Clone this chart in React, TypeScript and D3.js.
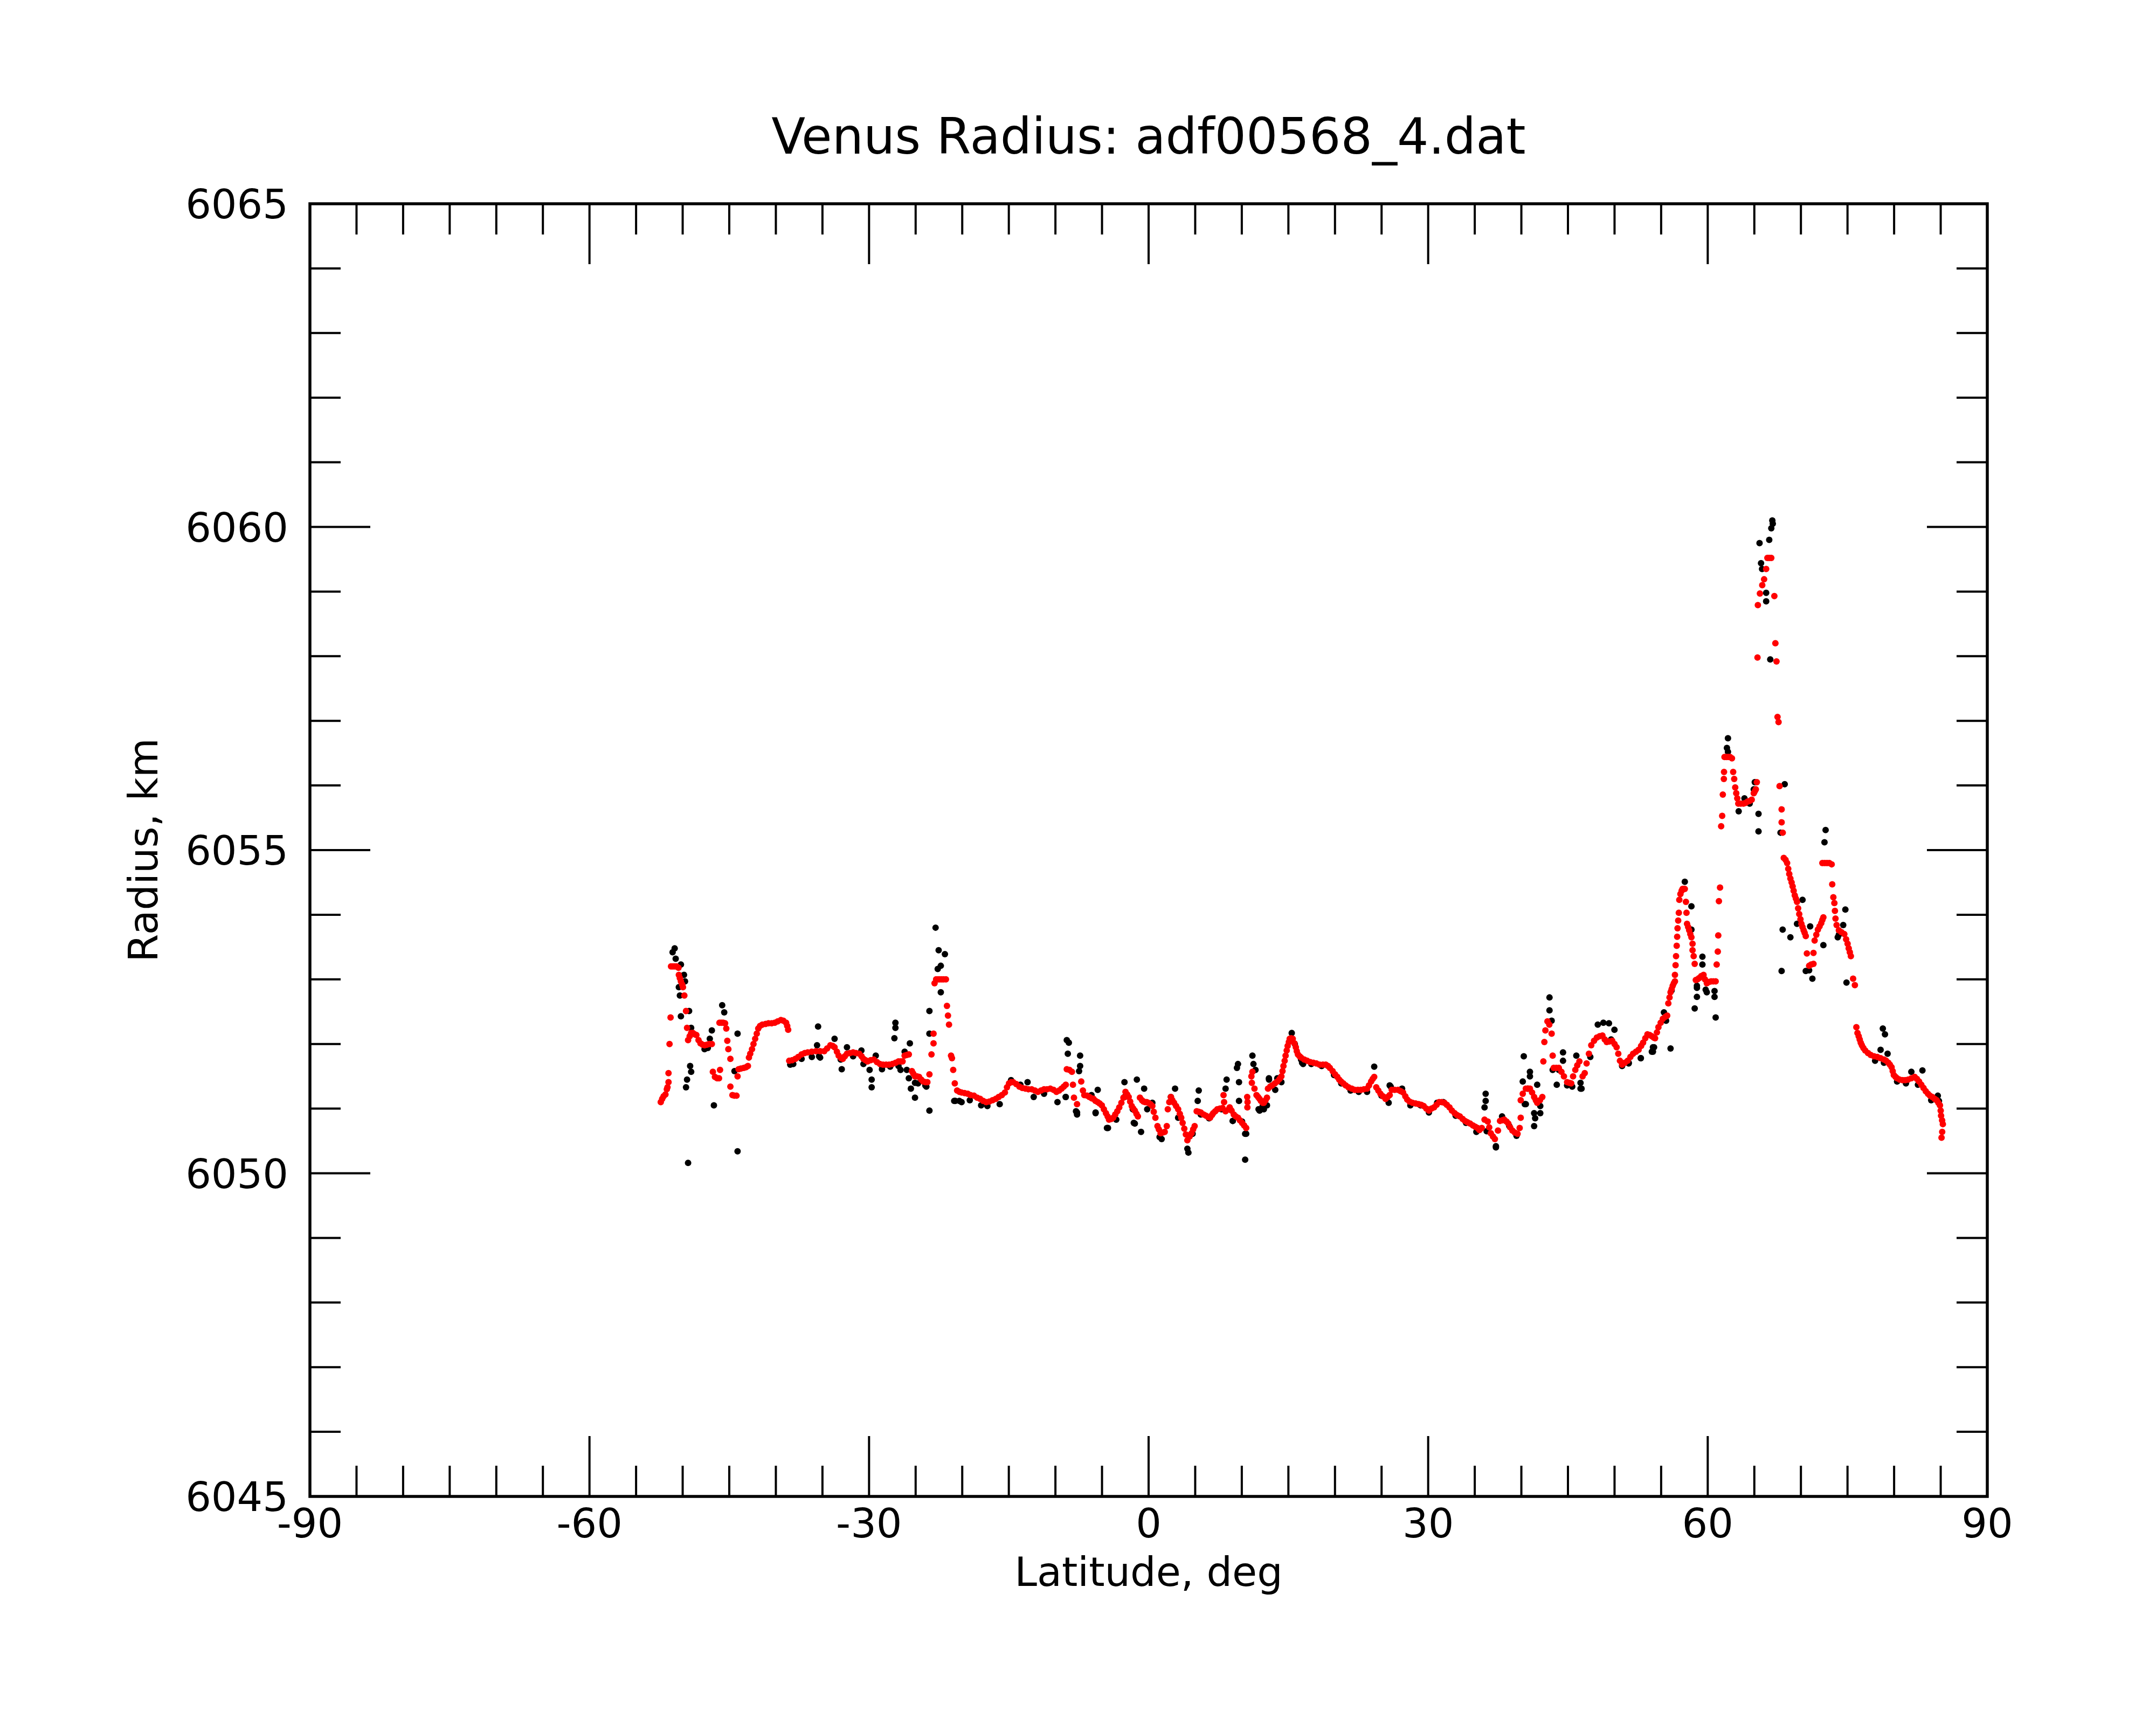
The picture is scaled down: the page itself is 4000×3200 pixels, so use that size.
import * as d3 from 'd3'

// latitude (deg), radius (km)
const RED_POINTS: [number, number][] = [
  [-52.35, 6051.1], [-52.2, 6051.15], [-52.05, 6051.19], [-51.85, 6051.22], [-51.7, 6051.3], [-51.63, 6051.33],
  [-51.52, 6051.41], [-51.52, 6051.55], [-51.41, 6052.0], [-51.3, 6052.41], [-51.25, 6053.2], [-51.05, 6053.2],
  [-50.85, 6053.2], [-50.65, 6053.2], [-50.45, 6053.18], [-50.41, 6053.07], [-50.3, 6053.02], [-50.19, 6052.97],
  [-50.05, 6052.92], [-49.97, 6052.88], [-49.82, 6052.75], [-49.64, 6052.51], [-49.53, 6052.25], [-49.42, 6052.06],
  [-49.25, 6052.12], [-49.09, 6052.17], [-48.9, 6052.17], [-48.7, 6052.15], [-48.53, 6052.14], [-48.3, 6052.06],
  [-48.09, 6052.01], [-47.85, 6051.99], [-47.65, 6051.98], [-47.4, 6051.99], [-47.15, 6052.0], [-46.87, 6052.0],
  [-46.76, 6051.57], [-46.54, 6051.49], [-46.3, 6051.47], [-46.1, 6051.47], [-45.99, 6051.6], [-46.05, 6052.33],
  [-45.85, 6052.33], [-45.65, 6052.33], [-45.45, 6052.32], [-45.32, 6052.24], [-45.21, 6052.05], [-45.1, 6051.92],
  [-44.88, 6051.77], [-44.88, 6051.34], [-44.66, 6051.21], [-44.45, 6051.2], [-44.22, 6051.2], [-44.11, 6051.5],
  [-44.0, 6051.61], [-43.75, 6051.62], [-43.44, 6051.63], [-43.2, 6051.64], [-43.0, 6051.66], [-42.89, 6051.79],
  [-42.75, 6051.85], [-42.56, 6051.92], [-42.4, 6052.0], [-42.22, 6052.08], [-42.05, 6052.16], [-41.89, 6052.24],
  [-41.7, 6052.28], [-41.45, 6052.3], [-41.1, 6052.31], [-40.79, 6052.32], [-40.45, 6052.32], [-40.12, 6052.33],
  [-39.8, 6052.35], [-39.46, 6052.37], [-39.2, 6052.36], [-38.9, 6052.33], [-38.78, 6052.28], [-38.68, 6052.22],
  [-38.57, 6051.74], [-38.25, 6051.75], [-37.91, 6051.77], [-37.6, 6051.8], [-37.24, 6051.84], [-36.9, 6051.86],
  [-36.58, 6051.87], [-36.15, 6051.88], [-35.7, 6051.89], [-35.25, 6051.89], [-34.81, 6051.89], [-34.5, 6051.93],
  [-34.15, 6051.98], [-33.9, 6051.97], [-33.7, 6051.95], [-33.45, 6051.88], [-33.26, 6051.82], [-33.0, 6051.78],
  [-32.82, 6051.77], [-32.6, 6051.81], [-32.37, 6051.85], [-32.05, 6051.86], [-31.71, 6051.87], [-31.4, 6051.86],
  [-31.05, 6051.85], [-30.8, 6051.81], [-30.6, 6051.77], [-30.38, 6051.75], [-30.16, 6051.73], [-29.83, 6051.75],
  [-29.5, 6051.76], [-29.15, 6051.72], [-28.83, 6051.69], [-28.5, 6051.68], [-28.17, 6051.68], [-27.85, 6051.68],
  [-27.5, 6051.69], [-27.15, 6051.71], [-26.84, 6051.73], [-26.6, 6051.73], [-26.4, 6051.73], [-26.18, 6051.82],
  [-25.95, 6051.83], [-25.73, 6051.84], [-25.4, 6051.58], [-25.25, 6051.54], [-25.07, 6051.5], [-24.85, 6051.5],
  [-24.63, 6051.49], [-24.4, 6051.45], [-24.19, 6051.42], [-23.95, 6051.41], [-23.74, 6051.41], [-23.52, 6051.53],
  [-23.3, 6051.84], [-23.08, 6052.01], [-23.08, 6052.16], [-22.97, 6052.94], [-22.8, 6053.0], [-22.6, 6053.0],
  [-22.41, 6053.0], [-22.2, 6053.0], [-22.0, 6053.0], [-21.75, 6053.0], [-21.64, 6052.59], [-21.53, 6052.44],
  [-21.42, 6052.3], [-21.2, 6051.82], [-21.1, 6051.78], [-20.97, 6051.6], [-20.8, 6051.39], [-20.55, 6051.28],
  [-20.3, 6051.26], [-20.07, 6051.25], [-19.75, 6051.24], [-19.41, 6051.23], [-19.1, 6051.21], [-18.74, 6051.2],
  [-18.4, 6051.17], [-18.08, 6051.15], [-17.75, 6051.12], [-17.42, 6051.1], [-17.1, 6051.11], [-16.75, 6051.13],
  [-16.4, 6051.15], [-16.09, 6051.18], [-15.75, 6051.21], [-15.42, 6051.25], [-15.2, 6051.33], [-14.98, 6051.39],
  [-14.75, 6051.41], [-14.54, 6051.41], [-14.2, 6051.38], [-13.87, 6051.34], [-13.55, 6051.32], [-13.21, 6051.31],
  [-12.9, 6051.3], [-12.55, 6051.3], [-12.2, 6051.28], [-11.88, 6051.26], [-11.55, 6051.28], [-11.22, 6051.3],
  [-10.9, 6051.3], [-10.55, 6051.31], [-10.2, 6051.29], [-9.89, 6051.26], [-9.6, 6051.28], [-9.34, 6051.31],
  [-9.1, 6051.34], [-8.89, 6051.37], [-8.78, 6051.61], [-8.5, 6051.6], [-8.23, 6051.57], [-8.12, 6051.37],
  [-8.01, 6051.17], [-7.68, 6051.07], [-7.23, 6051.42], [-7.05, 6051.28], [-6.9, 6051.21], [-6.6, 6051.2],
  [-6.35, 6051.18], [-6.1, 6051.16], [-5.91, 6051.15], [-5.7, 6051.12], [-5.46, 6051.1], [-5.25, 6051.08],
  [-5.02, 6051.05], [-4.8, 6050.99], [-4.58, 6050.93], [-4.4, 6050.88], [-4.25, 6050.83], [-4.0, 6050.84],
  [-3.8, 6050.86], [-3.58, 6050.91], [-3.36, 6050.96], [-3.15, 6051.02], [-2.92, 6051.09], [-2.7, 6051.17],
  [-2.48, 6051.26], [-2.3, 6051.22], [-2.14, 6051.18], [-1.98, 6051.11], [-1.81, 6051.04], [-1.65, 6051.0],
  [-1.48, 6050.97], [-1.3, 6050.92], [-1.15, 6050.88], [-0.93, 6051.17], [-0.71, 6051.13], [-0.55, 6051.11],
  [-0.37, 6051.1], [-0.2, 6051.1], [-0.04, 6051.09], [0.2, 6051.07], [0.4, 6051.04], [0.55, 6050.95],
  [0.73, 6050.86], [0.95, 6050.73], [1.1, 6050.68], [1.29, 6050.62], [1.5, 6050.63], [1.73, 6050.64],
  [1.95, 6050.73], [2.06, 6050.99], [2.22, 6051.1], [2.39, 6051.18], [2.55, 6051.13], [2.73, 6051.09],
  [2.95, 6051.04], [3.17, 6050.99], [3.35, 6050.92], [3.5, 6050.86], [3.65, 6050.78], [3.83, 6050.69],
  [4.0, 6050.6], [4.16, 6050.51], [4.4, 6050.57], [4.61, 6050.62], [4.78, 6050.68], [4.94, 6050.73],
  [5.16, 6050.96], [5.38, 6050.95], [5.6, 6050.94], [5.9, 6050.91], [6.16, 6050.89], [6.4, 6050.87],
  [6.6, 6050.86], [6.8, 6050.9], [6.93, 6050.93], [7.15, 6050.96], [7.37, 6050.99], [7.65, 6051.0],
  [7.93, 6051.01], [8.04, 6051.21], [8.1, 6051.1], [8.26, 6050.96], [8.59, 6050.99], [8.7, 6051.02],
  [8.9, 6050.97], [9.14, 6050.91], [9.35, 6050.88], [9.59, 6050.86], [9.8, 6050.82], [10.03, 6050.78],
  [10.25, 6050.74], [10.47, 6050.7], [10.58, 6051.18], [10.62, 6051.1], [10.6, 6051.02], [11.03, 6051.5],
  [11.14, 6051.57], [11.08, 6051.4], [11.36, 6051.31], [11.58, 6051.21], [11.75, 6051.18], [11.91, 6051.15],
  [12.05, 6051.12], [12.24, 6051.09], [12.37, 6051.09], [12.55, 6051.13], [12.7, 6051.17], [12.81, 6051.31],
  [13.05, 6051.34], [13.26, 6051.36], [13.55, 6051.39], [13.81, 6051.42], [14.05, 6051.46], [14.25, 6051.5],
  [14.37, 6051.58], [14.47, 6051.66], [14.6, 6051.74], [14.7, 6051.82], [14.82, 6051.9], [14.92, 6051.97],
  [15.05, 6052.03], [15.14, 6052.08], [15.3, 6052.09], [15.47, 6052.08], [15.65, 6052.01], [15.8, 6051.95],
  [15.9, 6051.89], [16.02, 6051.84], [16.2, 6051.81], [16.36, 6051.79], [16.7, 6051.76], [17.02, 6051.74],
  [17.35, 6051.72], [17.68, 6051.71], [18.0, 6051.7], [18.35, 6051.68], [18.7, 6051.68], [19.01, 6051.68],
  [19.25, 6051.66], [19.45, 6051.63], [19.75, 6051.58], [20.01, 6051.53], [20.25, 6051.49], [20.45, 6051.45],
  [20.65, 6051.42], [20.89, 6051.39], [21.15, 6051.36], [21.45, 6051.33], [21.8, 6051.31], [22.11, 6051.29],
  [22.45, 6051.29], [22.77, 6051.29], [23.1, 6051.3], [23.44, 6051.31], [23.65, 6051.36], [23.88, 6051.42],
  [24.05, 6051.46], [24.21, 6051.49], [24.43, 6051.33], [24.65, 6051.28], [24.88, 6051.23], [25.15, 6051.19],
  [25.43, 6051.15], [25.65, 6051.18], [25.87, 6051.21], [26.09, 6051.29], [26.4, 6051.29], [26.76, 6051.29],
  [27.05, 6051.27], [27.31, 6051.25], [27.55, 6051.19], [27.75, 6051.14], [28.0, 6051.11], [28.31, 6051.09],
  [28.65, 6051.08], [28.97, 6051.07], [29.25, 6051.06], [29.52, 6051.04], [29.8, 6051.0], [30.08, 6050.97],
  [30.35, 6051.0], [30.63, 6051.02], [30.9, 6051.06], [31.18, 6051.1], [31.45, 6051.1], [31.74, 6051.09],
  [32.0, 6051.06], [32.29, 6051.02], [32.55, 6050.97], [32.84, 6050.93], [33.1, 6050.9], [33.4, 6050.88],
  [33.7, 6050.84], [33.95, 6050.81], [34.2, 6050.79], [34.5, 6050.77], [34.8, 6050.74], [35.06, 6050.72],
  [35.3, 6050.7], [35.5, 6050.67], [35.75, 6050.7], [36.05, 6050.83], [36.39, 6050.8], [36.55, 6050.71],
  [36.72, 6050.62], [36.95, 6050.57], [37.16, 6050.53], [37.49, 6050.66], [37.71, 6050.81], [37.95, 6050.82],
  [38.16, 6050.83], [38.4, 6050.8], [38.6, 6050.77], [38.8, 6050.71], [39.04, 6050.66], [39.3, 6050.63],
  [39.59, 6050.61], [39.82, 6050.7], [39.93, 6050.86], [39.93, 6051.13], [40.15, 6051.23], [40.48, 6051.31],
  [40.7, 6051.31], [40.92, 6051.31], [41.15, 6051.25], [41.37, 6051.18], [41.55, 6051.13], [41.7, 6051.09],
  [42.0, 6051.13], [42.25, 6051.18], [42.36, 6051.73], [42.47, 6052.03], [42.58, 6052.21], [42.8, 6052.35],
  [43.0, 6052.3], [43.25, 6052.16], [43.36, 6051.82], [43.47, 6051.63], [43.75, 6051.63], [44.02, 6051.63],
  [44.3, 6051.57], [44.57, 6051.5], [44.91, 6051.41], [45.15, 6051.4], [45.35, 6051.39], [45.55, 6051.5],
  [45.79, 6051.6], [46.0, 6051.67], [46.23, 6051.73], [46.57, 6051.5], [46.8, 6051.55], [47.0, 6051.7],
  [47.25, 6051.85], [47.5, 6051.98], [47.8, 6052.05], [48.1, 6052.1], [48.4, 6052.12], [48.7, 6052.13],
  [48.95, 6052.07], [49.16, 6052.03], [49.45, 6052.04], [49.75, 6052.05], [50.0, 6052.0], [50.22, 6051.95],
  [50.4, 6051.85], [50.58, 6051.74], [50.81, 6051.68], [51.1, 6051.71], [51.4, 6051.74], [51.7, 6051.8],
  [51.99, 6051.85], [52.3, 6051.88], [52.58, 6051.91], [52.85, 6051.97], [53.06, 6052.02], [53.3, 6052.09],
  [53.53, 6052.15], [53.77, 6052.14], [54.0, 6052.12], [54.2, 6052.1], [54.35, 6052.09], [54.55, 6052.18],
  [54.71, 6052.26], [54.95, 6052.33], [55.18, 6052.39], [55.45, 6052.42], [55.65, 6052.44], [55.77, 6052.63],
  [55.9, 6052.72], [56.01, 6052.8], [56.13, 6052.85], [56.24, 6052.9], [56.36, 6052.94], [56.48, 6052.97],
  [56.48, 6053.07], [56.55, 6053.22], [56.6, 6053.36], [56.67, 6053.52], [56.72, 6053.66], [56.76, 6053.79],
  [56.83, 6053.91], [56.9, 6054.03], [56.95, 6054.23], [57.07, 6054.32], [57.2, 6054.37], [57.3, 6054.4],
  [57.42, 6054.4], [57.54, 6054.4], [57.66, 6054.2], [57.72, 6054.03], [57.78, 6053.86], [57.9, 6053.81],
  [58.01, 6053.76], [58.13, 6053.7], [58.25, 6053.65], [58.37, 6053.55], [58.37, 6053.45], [58.49, 6053.36],
  [58.6, 6053.24], [58.72, 6052.99], [58.9, 6053.0], [59.07, 6053.02], [59.3, 6053.05], [59.55, 6053.07],
  [59.7, 6053.0], [59.9, 6052.94], [60.15, 6052.96], [60.37, 6052.97], [60.6, 6052.97], [60.85, 6052.97],
  [60.96, 6053.23], [61.08, 6053.43], [61.13, 6053.68], [61.2, 6054.21], [61.32, 6054.42], [61.44, 6055.37],
  [61.55, 6055.53], [61.62, 6055.86], [61.73, 6056.1], [61.75, 6056.21], [61.8, 6056.44], [62.0, 6056.44],
  [62.2, 6056.44], [62.4, 6056.44], [62.6, 6056.42], [62.73, 6056.21], [62.84, 6056.1], [62.95, 6055.97],
  [63.06, 6055.88], [63.17, 6055.8], [63.28, 6055.72], [63.55, 6055.72], [63.83, 6055.72], [64.05, 6055.73],
  [64.28, 6055.75], [64.5, 6055.76], [64.72, 6055.78], [64.94, 6055.88], [65.05, 6055.91], [65.16, 6055.94],
  [65.27, 6056.05], [65.34, 6057.98], [65.38, 6058.79], [65.6, 6058.97], [65.85, 6059.1], [66.05, 6059.19],
  [66.27, 6059.35], [66.4, 6059.52], [66.6, 6059.52], [66.82, 6059.52], [67.15, 6058.93], [67.26, 6058.2],
  [67.38, 6057.92], [67.49, 6057.06], [67.6, 6056.98], [67.71, 6055.99], [67.93, 6055.63], [67.93, 6055.43],
  [68.05, 6055.27], [68.16, 6054.88], [68.35, 6054.85], [68.52, 6054.8], [68.64, 6054.71], [68.75, 6054.63],
  [68.87, 6054.56], [69.0, 6054.5], [69.11, 6054.44], [69.22, 6054.37], [69.34, 6054.3], [69.46, 6054.25],
  [69.58, 6054.2], [69.7, 6054.1], [69.82, 6054.01], [69.95, 6053.93], [70.05, 6053.86], [70.17, 6053.81],
  [70.29, 6053.76], [70.4, 6053.72], [70.52, 6053.67], [70.64, 6053.4], [70.88, 6053.21], [71.1, 6053.23],
  [71.35, 6053.24], [71.35, 6053.41], [71.47, 6053.6], [71.65, 6053.69], [71.82, 6053.77], [72.0, 6053.82],
  [72.18, 6053.87], [72.3, 6053.92], [72.41, 6053.96], [72.3, 6054.8], [72.55, 6054.8], [72.8, 6054.8],
  [73.05, 6054.8], [73.3, 6054.78], [73.36, 6054.47], [73.48, 6054.27], [73.59, 6054.18], [73.65, 6054.06],
  [73.71, 6053.94], [73.83, 6053.84], [74.07, 6053.76], [74.35, 6053.73], [74.66, 6053.7], [74.85, 6053.62],
  [75.01, 6053.55], [75.13, 6053.48], [75.25, 6053.42], [75.36, 6053.36], [75.6, 6053.01], [75.79, 6052.91],
  [75.95, 6052.26], [76.07, 6052.17], [76.2, 6052.12], [76.31, 6052.07], [76.42, 6052.02], [76.54, 6051.98],
  [76.7, 6051.94], [76.9, 6051.9], [77.2, 6051.86], [77.49, 6051.83], [77.85, 6051.81], [78.2, 6051.8],
  [78.55, 6051.78], [78.91, 6051.76], [79.15, 6051.74], [79.38, 6051.71], [79.55, 6051.68], [79.73, 6051.64],
  [79.85, 6051.58], [79.97, 6051.52], [80.15, 6051.49], [80.32, 6051.47], [80.6, 6051.45], [80.91, 6051.44],
  [81.2, 6051.44], [81.5, 6051.45], [81.85, 6051.47], [82.21, 6051.49], [82.45, 6051.46], [82.68, 6051.42],
  [82.92, 6051.37], [83.16, 6051.32], [83.4, 6051.27], [83.63, 6051.23], [83.85, 6051.2], [84.1, 6051.18],
  [84.35, 6051.15], [84.57, 6051.13], [84.75, 6051.09], [84.92, 6051.05], [85.0, 6050.97], [85.04, 6050.89],
  [85.15, 6050.82], [85.23, 6050.76], [85.16, 6050.64], [85.09, 6050.55],
]

// black raw points peeking out beneath the red track
const BLACK_TRACK: [number, number][] = [
  [-47.65, 6051.92], [-47.3, 6051.94], [-38.13, 6051.69], [-37.24, 6051.77], [-36.14, 6051.8], [-35.25, 6051.79],
  [-33.04, 6051.76], [-31.71, 6051.81], [-30.6, 6051.69], [-28.61, 6051.66], [-27.73, 6051.65], [-26.84, 6051.66],
  [-25.95, 6051.6], [-25.07, 6051.4], [-23.96, 6051.36], [-20.74, 6051.12], [-20.07, 6051.1], [-19.19, 6051.13],
  [-17.97, 6051.05], [-17.3, 6051.04], [-15.98, 6051.07], [-14.76, 6051.44], [-13.76, 6051.37], [-12.99, 6051.41],
  [-12.33, 6051.18], [-11.22, 6051.23], [-9.78, 6051.1], [-8.89, 6051.18], [-7.68, 6050.94], [-6.13, 6051.21],
  [-5.69, 6050.93], [-4.36, 6050.7], [-3.47, 6050.83], [-2.59, 6051.18], [-1.7, 6050.99], [-1.48, 6050.77],
  [-0.15, 6050.99], [0.4, 6051.09], [1.18, 6050.56], [2.39, 6051.18], [3.17, 6050.86], [4.16, 6050.38],
  [4.72, 6050.61], [5.6, 6050.91], [6.49, 6050.85], [7.82, 6050.99], [9.03, 6050.81], [10.03, 6050.8],
  [10.36, 6050.61], [11.8, 6050.99], [12.24, 6051.04], [12.37, 6050.99], [12.7, 6051.05], [12.92, 6051.45],
  [13.59, 6051.29], [14.25, 6051.41], [15.36, 6052.17], [15.69, 6052.0], [16.36, 6051.76], [16.58, 6051.69],
  [17.46, 6051.69], [18.57, 6051.66], [19.9, 6051.52], [20.67, 6051.39], [21.67, 6051.28], [22.55, 6051.26],
  [23.44, 6051.26], [24.21, 6051.65], [24.99, 6051.2], [25.76, 6051.09], [25.98, 6051.34], [27.2, 6051.31],
  [28.09, 6051.05], [29.19, 6051.05], [30.08, 6050.94], [30.96, 6051.09], [31.63, 6051.1], [32.95, 6050.89],
  [34.06, 6050.78], [35.17, 6050.64], [36.28, 6050.65], [37.27, 6050.42], [37.93, 6050.88], [38.71, 6050.73],
  [39.48, 6050.58], [40.37, 6051.07], [40.7, 6051.31], [42.03, 6051.04], [43.36, 6051.6], [44.02, 6051.6],
  [44.91, 6051.36], [45.46, 6051.34], [46.35, 6051.31], [49.63, 6052.07], [50.81, 6051.66], [51.52, 6051.7],
  [52.82, 6051.78], [54.12, 6051.95], [54.0, 6051.88], [55.53, 6052.36], [56.12, 6052.83], [58.84, 6052.9],
  [59.9, 6052.8], [70.88, 6053.14], [74.07, 6053.69], [77.96, 6051.74], [78.91, 6051.71], [80.32, 6051.42],
  [81.27, 6051.39], [82.56, 6051.37], [83.98, 6051.13], [84.81, 6051.12],
]

// black raw points standing clear of the red track
const BLACK_OUTLIERS: [number, number][] = [
  [-50.86, 6053.48], [-51.08, 6053.42], [-50.75, 6053.32], [-50.19, 6053.23], [-49.86, 6053.07], [-49.75, 6052.97],
  [-50.41, 6052.88], [-50.3, 6052.75], [-49.31, 6052.51], [-50.19, 6052.43], [-49.09, 6052.25], [-49.2, 6051.66],
  [-49.09, 6051.57], [-49.53, 6051.45], [-49.64, 6051.33], [-49.42, 6050.16], [-46.87, 6052.21], [-47.09, 6052.08],
  [-46.65, 6051.05], [-45.76, 6052.6], [-45.54, 6052.49], [-44.11, 6052.16], [-44.11, 6050.34], [-44.44, 6051.58],
  [-38.46, 6051.68], [-35.47, 6052.27], [-35.58, 6051.98], [-35.36, 6051.81], [-33.7, 6052.08], [-32.93, 6051.61],
  [-32.37, 6051.95], [-30.82, 6051.9], [-29.94, 6051.6], [-29.72, 6051.45], [-29.72, 6051.33], [-29.28, 6051.82],
  [-28.61, 6051.61], [-27.17, 6052.33], [-27.17, 6052.25], [-27.28, 6052.09], [-26.62, 6051.6], [-26.18, 6051.88],
  [-25.62, 6052.01], [-25.73, 6051.47], [-25.51, 6051.31], [-25.07, 6051.17], [-24.74, 6051.39], [-23.85, 6051.34],
  [-23.52, 6050.97], [-23.52, 6052.16], [-23.52, 6052.51], [-22.86, 6053.8], [-22.53, 6053.45], [-21.86, 6053.39],
  [-22.3, 6053.21], [-22.63, 6053.16], [-22.3, 6052.8], [-20.86, 6051.12], [-20.31, 6051.12],
  [-8.78, 6052.06], [-8.56, 6052.02], [-8.67, 6051.85], [-8.9, 6051.18], [-7.35, 6051.82], [-7.35, 6051.66],
  [-7.46, 6051.58], [-7.79, 6050.96], [-7.68, 6050.91], [-5.46, 6051.29], [-5.69, 6050.94], [-4.47, 6050.7],
  [-2.59, 6051.41], [-1.26, 6051.45], [-0.48, 6051.31], [-1.59, 6050.78], [-0.81, 6050.64], [1.4, 6050.53],
  [2.84, 6051.31], [4.27, 6050.32], [5.38, 6051.28], [5.27, 6051.12], [8.37, 6051.45], [8.26, 6051.31],
  [9.59, 6051.69], [9.48, 6051.63], [9.7, 6051.41], [9.7, 6051.12], [10.36, 6050.21], [9.03, 6050.81],
  [10.47, 6050.61], [11.14, 6051.82], [11.25, 6051.69], [11.47, 6051.6], [12.91, 6051.47], [11.91, 6050.97],
  [13.81, 6051.47], [16.47, 6051.71], [25.87, 6051.36], [36.17, 6051.23], [36.17, 6051.12], [36.05, 6051.02],
  [37.27, 6050.4], [40.26, 6051.81], [40.15, 6051.42], [40.92, 6051.57], [40.92, 6051.5], [40.48, 6051.07],
  [41.37, 6050.93], [41.48, 6050.85], [41.37, 6050.73], [42.03, 6050.93], [41.7, 6051.37], [43.02, 6052.72],
  [43.02, 6052.52], [43.25, 6052.36], [44.47, 6051.87], [44.47, 6051.74], [43.8, 6051.37], [45.9, 6051.82],
  [46.46, 6051.31], [46.35, 6051.4], [47.4, 6051.8], [48.2, 6052.3], [48.8, 6052.33],
  [49.4, 6052.32], [49.99, 6052.22], [51.52, 6051.71], [52.82, 6051.78], [54.24, 6051.95], [54.12, 6051.88],
  [56.01, 6051.93], [55.3, 6052.49], [57.54, 6054.51], [58.25, 6054.13], [58.25, 6053.77], [59.43, 6053.35],
  [59.43, 6053.23], [58.84, 6052.87], [58.84, 6052.73], [58.6, 6052.55], [59.78, 6052.84], [60.73, 6052.82],
  [60.73, 6052.73], [60.85, 6052.41], [63.32, 6055.6], [65.45, 6055.56], [65.45, 6055.29], [67.81, 6055.27],
  [72.65, 6055.31], [72.53, 6055.12], [68.04, 6053.77], [68.87, 6053.65], [70.17, 6054.23], [69.58, 6053.86],
  [70.99, 6053.82], [72.41, 6053.53], [67.93, 6053.13], [70.52, 6053.13], [71.23, 6053.01], [74.77, 6054.08],
  [74.54, 6053.84], [73.95, 6053.65], [74.89, 6052.95], [78.79, 6052.24], [79.02, 6052.15], [78.55, 6051.91],
  [79.3, 6051.85], [81.85, 6051.57], [83.04, 6051.59], [84.69, 6051.2],
  [66.93, 6060.1], [66.98, 6060.05], [66.82, 6059.98], [66.6, 6059.8], [65.56, 6059.75], [65.72, 6059.44],
  [65.83, 6059.35], [66.27, 6058.98], [66.27, 6058.85], [66.71, 6057.95], [62.17, 6056.73], [62.06, 6056.58],
  [62.17, 6056.52], [68.26, 6056.02], [65.05, 6056.05], [64.94, 6055.94], [63.94, 6055.8], [64.5, 6055.72],
]

const X_DOMAIN: [number, number] = [-90, 90]
const Y_DOMAIN: [number, number] = [6045, 6065]
const X_MAJOR = [-90, -60, -30, 0, 30, 60, 90]
const Y_MAJOR = [6045, 6050, 6055, 6060, 6065]

const TITLE = 'Venus Radius: adf00568_4.dat'
const X_LABEL = 'Latitude, deg'
const Y_LABEL = 'Radius, km'

const W = 4000
const H = 3200
const FONT = '"DejaVu Sans", Verdana, sans-serif'

export default function App() {
  const left = 575
  const right = 3687
  const top = 378
  const bottom = 2776

  const x = d3.scaleLinear().domain(X_DOMAIN).range([left, right])
  const y = d3.scaleLinear().domain(Y_DOMAIN).range([bottom, top])

  const xMinor = d3.range(-90, 91, 5).filter(v => !X_MAJOR.includes(v))
  const yMinor = d3.range(6045, 6066, 1).filter(v => !Y_MAJOR.includes(v))

  const MAJ = 112
  const MIN = 57
  const tickW = 4
  const dot = 6

  const blackAll = BLACK_TRACK.concat(BLACK_OUTLIERS)

  return (
    <svg
      width={W}
      height={H}
      viewBox={`0 0 ${W} ${H}`}
      style={{ position: 'absolute', left: 0, top: 0, background: '#fff', display: 'block' }}
      fontFamily={FONT}
    >
      <rect x={0} y={0} width={W} height={H} fill="#fff" />

      {/* data: raw in black, filtered in red on top */}
      <g fill="#000">
        {blackAll.map((d, i) => (
          <circle key={'b' + i} cx={x(d[0])} cy={y(d[1])} r={dot} />
        ))}
      </g>
      <g fill="#ff0000">
        {RED_POINTS.map((d, i) => (
          <circle key={'r' + i} cx={x(d[0])} cy={y(d[1])} r={dot} />
        ))}
      </g>

      {/* ticks, pointing inward on all four sides */}
      <g stroke="#000" strokeWidth={tickW}>
        {X_MAJOR.map(v => (
          <g key={'xm' + v}>
            <line x1={x(v)} x2={x(v)} y1={bottom} y2={bottom - MAJ} />
            <line x1={x(v)} x2={x(v)} y1={top} y2={top + MAJ} />
          </g>
        ))}
        {xMinor.map(v => (
          <g key={'xn' + v}>
            <line x1={x(v)} x2={x(v)} y1={bottom} y2={bottom - MIN} />
            <line x1={x(v)} x2={x(v)} y1={top} y2={top + MIN} />
          </g>
        ))}
        {Y_MAJOR.map(v => (
          <g key={'ym' + v}>
            <line x1={left} x2={left + MAJ} y1={y(v)} y2={y(v)} />
            <line x1={right} x2={right - MAJ} y1={y(v)} y2={y(v)} />
          </g>
        ))}
        {yMinor.map(v => (
          <g key={'yn' + v}>
            <line x1={left} x2={left + MIN} y1={y(v)} y2={y(v)} />
            <line x1={right} x2={right - MIN} y1={y(v)} y2={y(v)} />
          </g>
        ))}
      </g>

      <rect
        x={left}
        y={top}
        width={right - left}
        height={bottom - top}
        fill="none"
        stroke="#000"
        strokeWidth={5.5}
      />

      {/* tick labels */}
      <g fontSize={75} fill="#000">
        {X_MAJOR.map(v => (
          <text key={'xl' + v} x={x(v)} y={bottom + 76} textAnchor="middle">
            {v}
          </text>
        ))}
        {Y_MAJOR.map(v => (
          <text key={'yl' + v} x={left - 40} y={y(v) + 27} textAnchor="end">
            {v}
          </text>
        ))}
      </g>

      <text x={(left + right) / 2} y={2942} textAnchor="middle" fontSize={75}>
        {X_LABEL}
      </text>
      <text
        transform={`translate(292, ${(top + bottom) / 2}) rotate(-90)`}
        textAnchor="middle"
        fontSize={75}
      >
        {Y_LABEL}
      </text>
      <text x={(left + right) / 2} y={285} textAnchor="middle" fontSize={92}>
        {TITLE}
      </text>
    </svg>
  )
}
